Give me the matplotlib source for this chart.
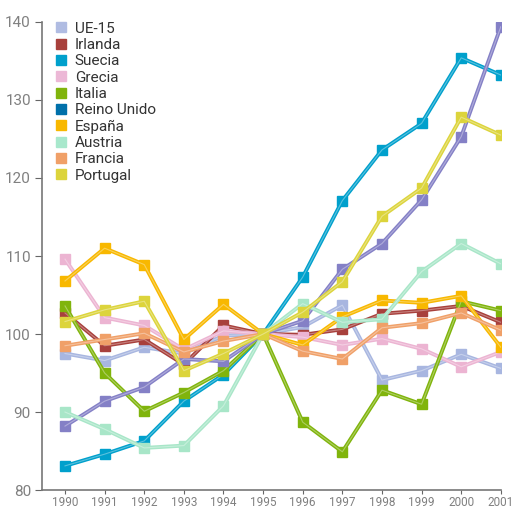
import matplotlib
matplotlib.use("Agg")
import matplotlib.pyplot as plt
from matplotlib.lines import Line2D
from matplotlib.colors import to_rgb

years = [1990, 1991, 1992, 1993, 1994, 1995, 1996, 1997, 1998, 1999, 2000, 2001]

ue15        = [97.5, 96.6, 98.3, 97.5, 99.8, 100, 100.9, 103.7, 94.1, 95.3, 97.4, 95.6]
irlanda     = [102.7, 98.5, 99.3, 96.1, 101.1, 100, 99.9, 100.6, 102.6, 103.0, 103.6, 101.5]
suecia      = [83.1, 84.6, 86.3, 91.4, 94.8, 100, 107.3, 117.1, 123.6, 127.0, 135.4, 133.2]
grecia      = [109.6, 102.1, 101.1, 98.0, 100.4, 100, 99.6, 98.6, 99.4, 98.1, 95.8, 97.7]
italia      = [103.6, 95.0, 90.1, 92.5, 95.3, 100, 88.7, 84.9, 92.8, 91.0, 104.2, 103.0]
reino_unido = [88.2, 91.4, 93.2, 96.8, 96.5, 100, 101.7, 108.3, 111.6, 117.2, 125.3, 139.4]
espana      = [106.8, 111.0, 108.9, 99.3, 103.8, 100, 98.6, 102.2, 104.3, 104.0, 104.9, 98.3]
austria     = [90.0, 87.8, 85.4, 85.7, 90.8, 100, 103.9, 101.5, 101.9, 108.0, 111.6, 109.0]
francia     = [98.5, 99.3, 100.1, 97.7, 99.1, 100, 97.8, 96.8, 100.8, 101.4, 102.7, 100.5]
portugal    = [101.6, 103.1, 104.2, 95.3, 97.5, 100, 102.8, 106.7, 115.1, 118.7, 127.8, 125.5]

names = ["UE-15", "Irlanda", "Suecia", "Grecia", "Italia",
         "Reino Unido", "España", "Austria", "Francia", "Portugal"]
series = [ue15, irlanda, suecia, grecia, italia,
          reino_unido, espana, austria, francia, portugal]
legend_colors = ["#b0bce2", "#a8403c", "#00a0cc", "#ecb8d6", "#80b40c",
                 "#0070aa", "#f8b800", "#a8e8cc", "#f0a068", "#dcd43c"]
line_colors = ["#a8b6e0", "#a8403c", "#00a0cc", "#ecb4d2", "#80b40c",
               "#8480c6", "#f8b800", "#a8e6c8", "#f0a068", "#dcd43c"]

def lighter(c, f=0.35):
    r, g, b = to_rgb(c)
    return (r + (1 - r) * f, g + (1 - g) * f, b + (1 - b) * f)

plt.rcParams['font.family'] = ['Roboto', 'DejaVu Sans']

fig = plt.figure(figsize=(5.19, 5.11), dpi=100)
ax = fig.add_axes([0.081, 0.041, 0.884, 0.916])

draw_order = [7, 3, 0, 8, 1, 9, 6, 5, 2, 4]
for i in draw_order:
    c = line_colors[i]
    ax.plot(years, series[i], color=c, lw=2.8, marker="s", markersize=6.5,
            markerfacecolor=c, markeredgecolor=c, zorder=2 + i * 0.1)
    ax.plot(years, series[i], color=lighter(c), lw=0.8, zorder=2.05 + i * 0.1)

ax.set_xlim(1989.42, 2001)
ax.set_ylim(80, 140)
ax.set_xticks(years)
ax.set_xticklabels([str(y) for y in years], fontsize=8.5, color="#808080")
ax.set_yticks([80, 90, 100, 110, 120, 130, 140])
ax.set_yticklabels(["80", "90", "100", "110", "120", "130", "140"],
                   fontsize=11, color="#808080")
ax.tick_params(axis="y", direction="out", length=5, color="#666666", pad=3)
ax.tick_params(axis="x", direction="out", length=3, color="#666666", pad=1)
for s in ["top", "right"]:
    ax.spines[s].set_visible(False)
for s in ["left", "bottom"]:
    ax.spines[s].set_color("#777777")
    ax.spines[s].set_linewidth(1.2)

handles = [Line2D([], [], linestyle="none", marker="s", markersize=7.5,
                  markerfacecolor=c, markeredgecolor=c) for c in legend_colors]
ax.legend(handles, names, loc="upper left", bbox_to_anchor=(0.008, 1.02),
          frameon=False, fontsize=11, labelcolor="#333333",
          handlelength=0.8, handletextpad=0.5, labelspacing=0.15,
          borderaxespad=0.2)

fig.savefig("out.png", dpi=100)
